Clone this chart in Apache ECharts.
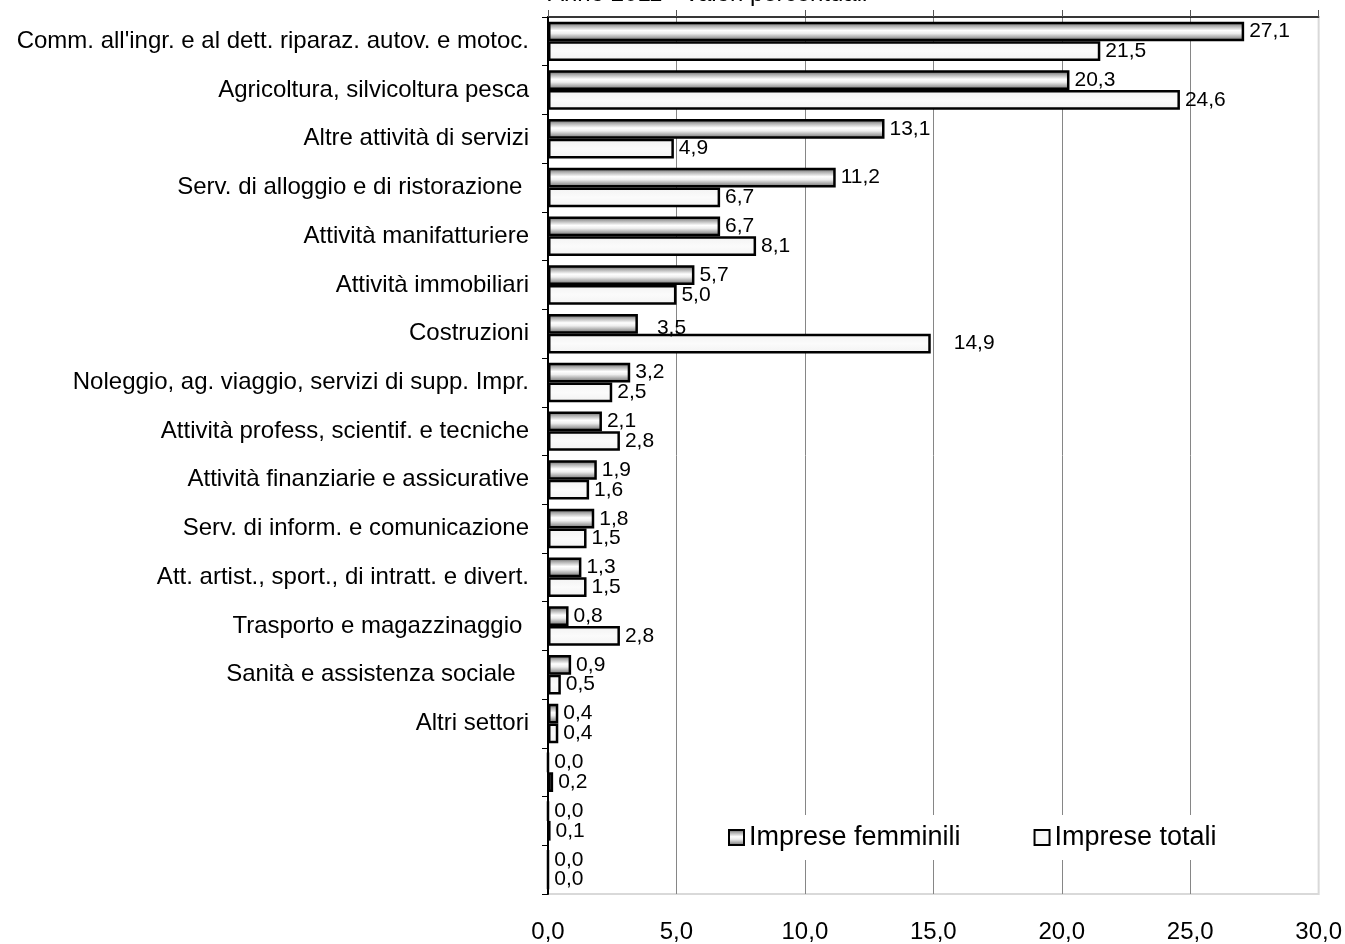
<!DOCTYPE html>
<html>
<head>
<meta charset="utf-8">
<script src="https://cdn.jsdelivr.net/npm/echarts@6/dist/echarts.min.js"></script>
<style>
html,body{margin:0;padding:0;background:#fff;}
#chart{width:1345px;height:944px;}
</style>
</head>
<body>
<div id="chart"></div>
<script>
const titleText = "Anno 2011 - Valori percentuali";
const categories = [
  "Comm. all'ingr. e al dett. riparaz. autov. e motoc.",
  "Agricoltura, silvicoltura pesca",
  "Altre attività di servizi",
  "Serv. di alloggio e di ristorazione ",
  "Attività manifatturiere",
  "Attività immobiliari",
  "Costruzioni",
  "Noleggio, ag. viaggio, servizi di supp. Impr.",
  "Attività profess, scientif. e tecniche",
  "Attività finanziarie e assicurative",
  "Serv. di inform. e comunicazione",
  "Att. artist., sport., di intratt. e divert.",
  "Trasporto e magazzinaggio ",
  "Sanità e assistenza sociale  ",
  "Altri settori",
  " ",
  "  ",
  "   "
];
const seriesNames = ["Imprese femminili", "Imprese totali"];
const impreseFemminili = [27.1, 20.3, 13.1, 11.2, 6.7, 5.7, 3.5, 3.2, 2.1, 1.9, 1.8, 1.3, 0.8, 0.9, 0.4, 0.0, 0.0, 0.0];
const impreseTotali   = [21.5, 24.6, 4.9, 6.7, 8.1, 5.0, 14.9, 2.5, 2.8, 1.6, 1.5, 1.5, 2.8, 0.5, 0.4, 0.2, 0.1, 0.0];
const xTicks = [0, 5, 10, 15, 20, 25, 30];

const fmt = v => v.toFixed(1).replace('.', ',');
const FONT = '"Liberation Sans", Arial, sans-serif';

const gradFem = new echarts.graphic.LinearGradient(0, 0, 0, 1, [
  {offset: 0, color: '#4a4a4a'},
  {offset: 0.2, color: '#a8a8a8'},
  {offset: 0.45, color: '#ffffff'},
  {offset: 0.6, color: '#eeeeee'},
  {offset: 0.85, color: '#959595'},
  {offset: 1, color: '#5a5a5a'}
]);
const gradTot = new echarts.graphic.LinearGradient(0, 0, 0, 1, [
  {offset: 0, color: '#f2f2f2'},
  {offset: 0.5, color: '#fbfbfb'},
  {offset: 1, color: '#f2f2f2'}
]);

// special label offsets (manual placement in the original)
const labelOffsets = {
  tot: {6: [18, 0]},
  fem: {6: [14, 4]}
};

function buildData(values, key) {
  return values.map((v, i) => {
    const o = {value: v};
    if (labelOffsets[key][i]) o.label = {offset: labelOffsets[key][i]};
    return o;
  });
}

const chart = echarts.init(document.getElementById('chart'), null, {renderer: 'canvas'});
const labelCommon = {
  show: true,
  position: 'right',
  distance: 5,
  color: '#000',
  fontFamily: FONT,
  fontSize: 21,
  formatter: p => fmt(p.value)
};

chart.setOption({
  animation: false,
  backgroundColor: '#fff',
  title: {
    text: titleText,
    left: 543,
    top: -23,
    textStyle: {fontFamily: FONT, fontSize: 24, fontWeight: 'normal', color: '#000'}
  },
  grid: {
    left: 548, right: 25, top: 17, bottom: 49,
    show: true, borderColor: '#d9d9d9', borderWidth: 2, backgroundColor: 'transparent'
  },
  legend: {
    data: seriesNames,
    left: 716,
    top: 815,
    icon: 'rect',
    itemWidth: 15,
    itemHeight: 15,
    itemGap: 73,
    itemTextGap: 6,
    padding: [9, 12],
    backgroundColor: '#fff',
    textStyle: {fontFamily: FONT, fontSize: 27, color: '#000'},
    itemStyle: {borderColor: '#000', borderWidth: 2}
  },
  xAxis: [
    {
      type: 'value', position: 'top', min: 0, max: 30, interval: 5,
      axisLine: {show: true, lineStyle: {color: '#000', width: 1.5}},
      axisTick: {show: true, length: 7, lineStyle: {color: '#555'}},
      axisLabel: {show: false},
      splitLine: {show: true, showMaxLine: false, lineStyle: {color: '#868686', width: 1}}
    },
    {
      type: 'value', position: 'bottom', min: 0, max: 30, interval: 5,
      axisLine: {show: false},
      axisTick: {show: false},
      axisLabel: {show: true, margin: 26, fontFamily: FONT, fontSize: 24, color: '#000', formatter: v => fmt(v)},
      splitLine: {show: false}
    }
  ],
  yAxis: {
    type: 'category', inverse: true, data: categories,
    axisLine: {show: true, lineStyle: {color: '#000', width: 2}},
    axisTick: {show: true, length: 6, lineStyle: {color: '#000', width: 1}},
    axisLabel: {margin: 19, fontFamily: FONT, fontSize: 24, color: '#000'},
    splitLine: {show: false}
  },
  series: [
    {
      name: seriesNames[0], type: 'bar', xAxisIndex: 0,
      data: buildData(impreseFemminili, 'fem'),
      barGap: '0%', barCategoryGap: '19%',
      itemStyle: {color: gradFem, borderColor: '#000', borderWidth: 2.5},
      label: labelCommon
    },
    {
      name: seriesNames[1], type: 'bar', xAxisIndex: 0,
      data: buildData(impreseTotali, 'tot'),
      barGap: '0%', barCategoryGap: '19%',
      itemStyle: {color: gradTot, borderColor: '#000', borderWidth: 2.5},
      label: labelCommon
    }
  ]
});
</script>
</body>
</html>
